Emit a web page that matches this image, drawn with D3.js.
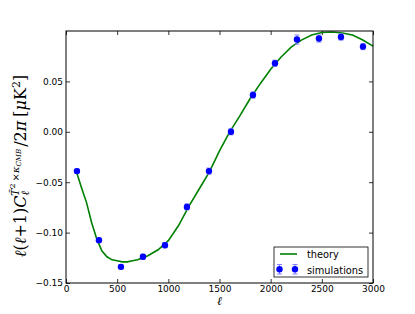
<!DOCTYPE html>
<html>
<head>
<meta charset="utf-8">
<script src="https://cdn.jsdelivr.net/npm/d3@7"></script>
<style>
  body { margin: 0; background: #fff; }
  svg { display: block; }
  .tick text { font-family: "DejaVu Sans", sans-serif; font-size: 9px; fill: #000; }
</style>
</head>
<body>
<div id="chart"></div>
<script>
// theory curve
var theoryEll = [100, 150, 200, 250, 300, 350, 400, 450, 500, 550, 600, 650, 700, 750, 800, 900,
    1000, 1100, 1200, 1300, 1400, 1500, 1600, 1700, 1800, 1900, 2000, 2100, 2200, 2300, 2400,
    2500, 2600, 2700, 2800, 2900, 3000];
var theoryVal = [-0.039, -0.055, -0.070, -0.090, -0.106, -0.118, -0.124, -0.127, -0.128, -0.129,
    -0.129, -0.128, -0.127, -0.125, -0.123, -0.117, -0.108, -0.093, -0.074, -0.057, -0.040,
    -0.019, 0.000, 0.016, 0.033, 0.048, 0.062, 0.074, 0.084, 0.091, 0.096, 0.0985, 0.099,
    0.098, 0.096, 0.091, 0.085];

// simulation points
var simEll = [107, 322, 537, 752, 967, 1182, 1397, 1612, 1827, 2042, 2257, 2472, 2687, 2902];
var simVal = [-0.039, -0.1075, -0.134, -0.124, -0.1125, -0.0745, -0.039, 0.0, 0.0365, 0.068,
    0.0915, 0.0925, 0.094, 0.0845];
var simErr = [0.002, 0.002, 0.002, 0.0025, 0.0025, 0.003, 0.003, 0.003, 0.003, 0.003, 0.0045,
    0.0035, 0.003, 0.003];

var xTicks = [0, 500, 1000, 1500, 2000, 2500, 3000];
var yTicks = [-0.15, -0.10, -0.05, 0.00, 0.05];

var W = 415, H = 314;
var margin = { left: 66, right: 42, top: 31, bottom: 31 };

var svg = d3.select('#chart').append('svg')
    .attr('width', W)
    .attr('height', H);

var x = d3.scaleLinear().domain([0, 3000]).range([margin.left, W - margin.right]);
var y = d3.scaleLinear().domain([-0.15, 0.1]).range([H - margin.bottom, margin.top]);

var errColor = '#8080ff';
var dotColor = '#0000ff';
var lineColor = '#008000';

// Axes with inward ticks on all four sides.
var xFmt = d3.format('d');
var yFmt = d3.format('.2f');

svg.append('g')
    .attr('transform', 'translate(0,' + (H - margin.bottom) + ')')
    .call(d3.axisBottom(x).tickValues(xTicks).tickFormat(xFmt).tickSizeInner(-4).tickSizeOuter(0).tickPadding(3));
svg.append('g')
    .attr('transform', 'translate(0,' + margin.top + ')')
    .call(d3.axisTop(x).tickValues(xTicks).tickFormat('').tickSizeInner(-4).tickSizeOuter(0));
svg.append('g')
    .attr('transform', 'translate(' + margin.left + ',0)')
    .call(d3.axisLeft(y).tickValues(yTicks).tickFormat(yFmt).tickSizeInner(-4).tickSizeOuter(0).tickPadding(3));
svg.append('g')
    .attr('transform', 'translate(' + (W - margin.right) + ',0)')
    .call(d3.axisRight(y).tickValues(yTicks).tickFormat('').tickSizeInner(-4).tickSizeOuter(0));

svg.selectAll('.domain').remove();
svg.selectAll('.tick line').attr('stroke', '#000').attr('stroke-width', 0.8);

// Theory line.
var line = d3.line()
    .x((d, i) => x(theoryEll[i]))
    .y(d => y(d));

svg.append('path')
    .datum(theoryVal)
    .attr('d', line)
    .attr('fill', 'none')
    .attr('stroke', lineColor)
    .attr('stroke-width', 1.6);

// Error bars and points.
var sims = simEll.map((e, i) => ({ ell: e, val: simVal[i], err: simErr[i] }));

var eb = svg.append('g').selectAll('g').data(sims).enter().append('g');
eb.append('line')
    .attr('x1', d => x(d.ell)).attr('x2', d => x(d.ell))
    .attr('y1', d => y(d.val - d.err)).attr('y2', d => y(d.val + d.err))
    .attr('stroke', errColor).attr('stroke-width', 1);
[-1, 1].forEach(function(s) {
    eb.append('line')
        .attr('x1', d => x(d.ell) - 2.5).attr('x2', d => x(d.ell) + 2.5)
        .attr('y1', d => y(d.val + s * d.err)).attr('y2', d => y(d.val + s * d.err))
        .attr('stroke', errColor).attr('stroke-width', 1);
});
eb.append('circle')
    .attr('cx', d => x(d.ell)).attr('cy', d => y(d.val))
    .attr('r', 3.2)
    .attr('fill', dotColor);

// Frame.
svg.append('rect')
    .attr('x', margin.left).attr('y', margin.top)
    .attr('width', W - margin.left - margin.right)
    .attr('height', H - margin.top - margin.bottom)
    .attr('fill', 'none')
    .attr('stroke', '#000')
    .attr('stroke-width', 1);

// Legend.
var lg = svg.append('g').attr('transform', 'translate(274,247)');
lg.append('rect')
    .attr('width', 94).attr('height', 30)
    .attr('fill', '#fff').attr('stroke', '#000').attr('stroke-width', 0.8);
lg.append('line')
    .attr('x1', 6).attr('x2', 23).attr('y1', 7).attr('y2', 7)
    .attr('stroke', lineColor).attr('stroke-width', 1.6);
[5.5, 21].forEach(function(px) {
    lg.append('line').attr('x1', px).attr('x2', px).attr('y1', 17.5).attr('y2', 27)
        .attr('stroke', errColor);
    lg.append('line').attr('x1', px - 2.5).attr('x2', px + 2.5).attr('y1', 17.5).attr('y2', 17.5)
        .attr('stroke', errColor);
    lg.append('line').attr('x1', px - 2.5).attr('x2', px + 2.5).attr('y1', 27).attr('y2', 27)
        .attr('stroke', errColor);
    lg.append('circle').attr('cx', px).attr('cy', 22.3).attr('r', 3.2).attr('fill', dotColor);
});
lg.selectAll('text.lab').data(['theory', 'simulations']).enter().append('text')
    .attr('class', 'lab')
    .attr('x', 33)
    .attr('y', (d, i) => 10.5 + i * 16)
    .attr('font-family', 'DejaVu Sans, sans-serif')
    .attr('font-size', 9.8)
    .text(d => d);

// x label
svg.append('text')
    .attr('x', (margin.left + W - margin.right) / 2)
    .attr('y', 305)
    .attr('text-anchor', 'middle')
    .attr('font-family', 'DejaVu Serif, serif')
    .attr('font-style', 'italic')
    .attr('font-size', 12)
    .text('ℓ');

// y label
var yl = svg.append('text')
    .attr('transform', 'translate(26,166) rotate(-90)')
    .attr('text-anchor', 'middle')
    .attr('font-family', 'DejaVu Serif, serif')
    .attr('font-size', 16);
yl.append('tspan').attr('font-style', 'italic').text('ℓ');
yl.append('tspan').text('(');
yl.append('tspan').attr('font-style', 'italic').text('ℓ');
yl.append('tspan').text('+1)');
yl.append('tspan').attr('font-style', 'italic').text('C');
yl.append('tspan').attr('font-style', 'italic').attr('font-size', 11).attr('dy', 3).text('ℓ');
yl.append('tspan').attr('font-style', 'italic').attr('font-size', 11).attr('dx', -5).attr('dy', -10).text('T\u0303');
yl.append('tspan').attr('font-size', 8).attr('dy', -4).text('2');
yl.append('tspan').attr('font-size', 10).attr('dy', 4).attr('dx', 2).text('×');
yl.append('tspan').attr('font-style', 'italic').attr('font-size', 10).text('κ');
yl.append('tspan').attr('font-style', 'italic').attr('font-size', 7).attr('dy', 2).text('CMB');
yl.append('tspan').attr('dy', 5).attr('dx', 2).text('/2');
yl.append('tspan').attr('font-style', 'italic').text('π');
yl.append('tspan').attr('dx', 4).text('[');
yl.append('tspan').attr('font-style', 'italic').text('μ');
yl.append('tspan').text('K');
yl.append('tspan').attr('font-size', 11).attr('dy', -6).text('2');
yl.append('tspan').attr('dy', 6).text(']');
</script>
</body>
</html>
